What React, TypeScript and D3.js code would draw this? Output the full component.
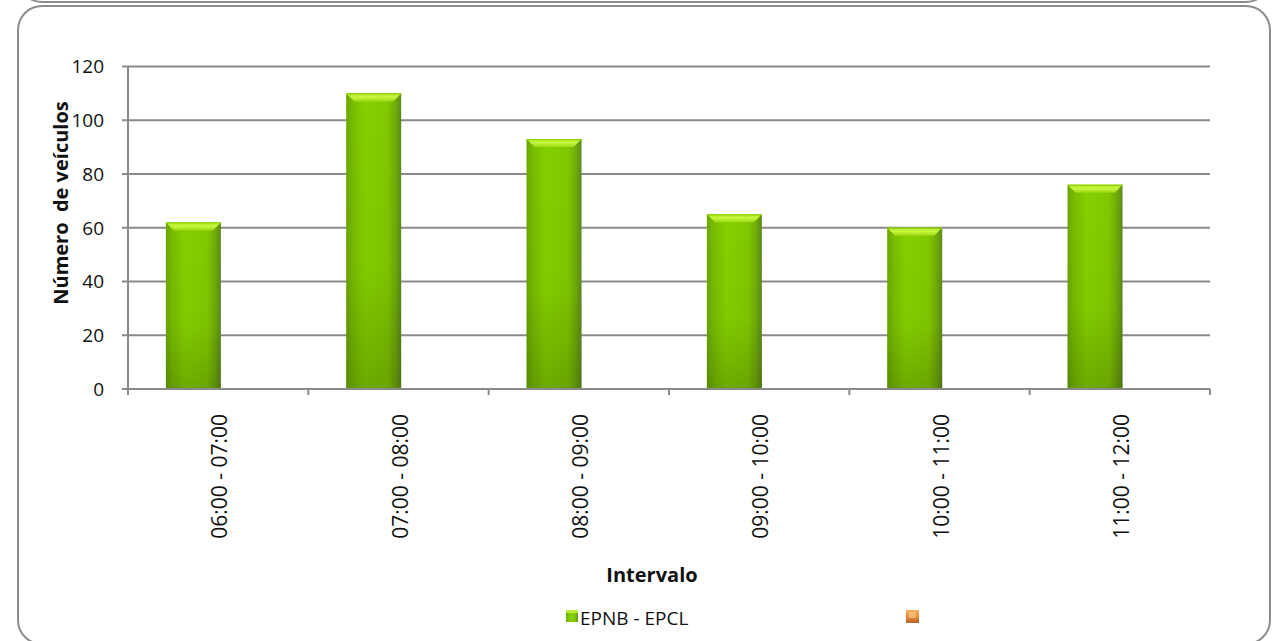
import React from "react";
import * as d3 from "d3";

const categories = ["06:00 - 07:00", "07:00 - 08:00", "08:00 - 09:00", "09:00 - 10:00", "10:00 - 11:00", "11:00 - 12:00"];
const seriesNames = ["EPNB - EPCL", ""];
const seriesA = [62, 110, 93, 65, 60, 76];
const yTicks = [0, 20, 40, 60, 80, 100, 120];

const W = 1284, H = 641;
const M = { left: 128, right: 1210, top: 66.5, bottom: 389 };
const FONT = "'Open Sans', Lato, sans-serif";

export default function App() {
  const x0 = d3.scaleBand<string>().domain(categories).range([M.left, M.right]).padding(0);
  const cw = x0.bandwidth();
  const x1 = d3.scaleBand<string>().domain(seriesNames).range([cw * 0.21, cw * 0.82]).padding(0);
  const y = d3.scaleLinear().domain([0, 120]).range([M.bottom, M.top]);
  const bw = x1.bandwidth();
  const grid = "#8a8a8a";

  return (
    <svg width={W} height={H} style={{ position: "absolute", left: 0, top: 0, background: "#fff" }}>
      <defs>
        <linearGradient id="barH" x1="0" x2="1" y1="0" y2="0">
          <stop offset="0" stopColor="#6aa600" />
          <stop offset="0.12" stopColor="#78bc00" />
          <stop offset="0.35" stopColor="#84d000" />
          <stop offset="0.75" stopColor="#80c800" />
          <stop offset="0.9" stopColor="#70aa08" />
          <stop offset="1" stopColor="#5c8a1c" />
        </linearGradient>
        <linearGradient id="barV" x1="0" x2="0" y1="0" y2="1">
          <stop offset="0" stopColor="#000" stopOpacity="0" />
          <stop offset="0.6" stopColor="#000" stopOpacity="0.03" />
          <stop offset="1" stopColor="#000" stopOpacity="0.18" />
        </linearGradient>
        <linearGradient id="bevel" x1="0" x2="0" y1="0" y2="1">
          <stop offset="0" stopColor="#a8e020" />
          <stop offset="0.45" stopColor="#c8f840" />
          <stop offset="1" stopColor="#9cd810" />
        </linearGradient>
        <linearGradient id="orange" x1="0" x2="0" y1="0" y2="1">
          <stop offset="0" stopColor="#f6b060" />
          <stop offset="0.5" stopColor="#e98a3a" />
          <stop offset="1" stopColor="#b8652a" />
        </linearGradient>
      </defs>

      {/* previous chart frame bottom edge */}
      <rect x={18} y={-700} width={1252} height={702} rx={24} fill="none" stroke="#8c8c8c" strokeWidth={2} />
      {/* chart frame */}
      <rect x={18} y={6} width={1252} height={638} rx={24} fill="#fff" stroke="#8c8c8c" strokeWidth={2} />

      {/* gridlines */}
      {yTicks.map((t) => (
        <line key={"g" + t} x1={M.left - 6} x2={M.right} y1={y(t)} y2={y(t)} stroke={grid} strokeWidth={2} />
      ))}
      {/* y axis */}
      <line x1={M.left} x2={M.left} y1={M.top} y2={M.bottom} stroke={grid} strokeWidth={2} />
      {yTicks.map((t) => (
        <text key={"yl" + t} x={M.left - 24} y={y(t)} dy="0.36em" textAnchor="end" fontFamily={FONT} fontSize={19} fill="#111">
          {t}
        </text>
      ))}

      {/* x ticks */}
      {categories.map((c, i) => (
        <line key={"xt" + i} x1={x0(c)! + cw} x2={x0(c)! + cw} y1={M.bottom} y2={M.bottom + 6} stroke={grid} strokeWidth={2} />
      ))}
      <line x1={M.left} x2={M.left} y1={M.bottom} y2={M.bottom + 6} stroke={grid} strokeWidth={2} />

      {/* bars */}
      {categories.map((c, i) => {
        const bx = x0(c)! + x1(seriesNames[0])!;
        const by = y(seriesA[i]);
        const bh = y(0) - by;
        const bev = 8;
        return (
          <g key={"b" + i}>
            <rect x={bx} y={by} width={bw} height={bh} fill="url(#barH)" />
            <rect x={bx} y={by} width={bw} height={bh} fill="url(#barV)" />
            <path d={`M${bx},${by} L${bx + bw},${by} L${bx + bw - bev},${by + bev} L${bx + bev},${by + bev} Z`} fill="url(#bevel)" />
            <line x1={bx} x2={bx + bw} y1={by + 0.5} y2={by + 0.5} stroke="#8ed000" strokeWidth={1} />
          </g>
        );
      })}
      {/* axis baseline over bars */}
      <line x1={M.left} x2={M.right} y1={M.bottom} y2={M.bottom} stroke={grid} strokeWidth={2} />

      {/* x labels */}
      {categories.map((c, i) => {
        const cx = x0(c)! + cw / 2;
        return (
          <text key={"xl" + i} transform={`translate(${cx + 9},${M.bottom + 25}) rotate(-90)`} textAnchor="end" fontFamily={FONT} fontSize={21} fill="#111">
            {c}
          </text>
        );
      })}

      {/* axis titles */}
      <text x={652} y={582} textAnchor="middle" fontFamily={FONT} fontWeight="bold" fontSize={20} fill="#111">
        Intervalo
      </text>
      <text transform={`translate(68,203) rotate(-90)`} textAnchor="middle" fontFamily={FONT} fontWeight="bold" fontSize={20} fill="#111" style={{ whiteSpace: "pre" }}>
        {"Número  de veículos"}
      </text>

      {/* legend */}
      <rect x={566} y={610} width={12} height={12} fill="url(#barH)" />
      <rect x={566} y={610} width={12} height={3} fill="#b8ee30" />
      <text x={580} y={625} fontFamily={FONT} fontSize={19} fill="#111">
        {seriesNames[0]}
      </text>
      <rect x={906} y={610} width={13} height={13} fill="url(#orange)" />
      <rect x={909} y={612} width={7} height={6} fill="#f8c880" opacity={0.7} />
    </svg>
  );
}
